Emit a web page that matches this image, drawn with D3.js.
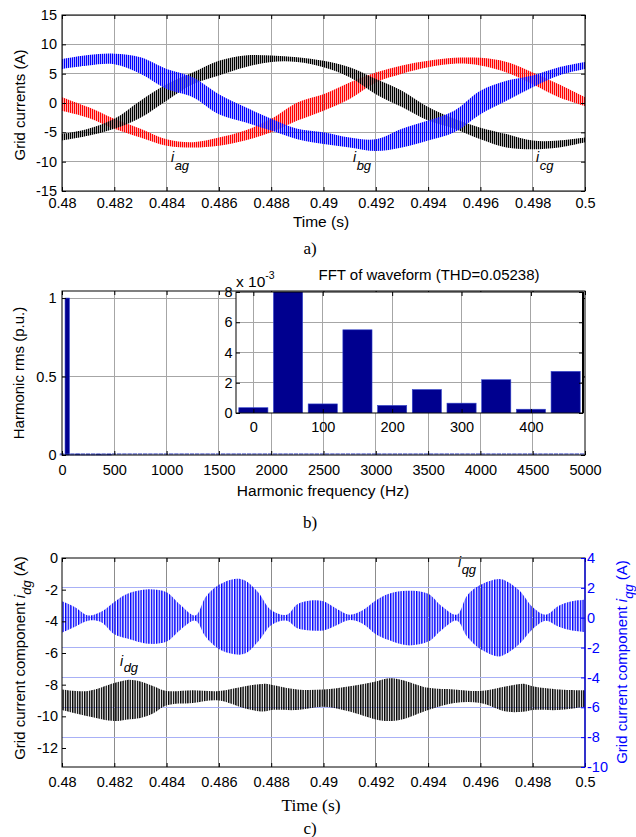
<!DOCTYPE html>
<html>
<head>
<meta charset="utf-8">
<script src="https://cdn.jsdelivr.net/npm/d3@7"></script>
<style>
body { margin: 0; background: #fff; }
svg { font-family: "Liberation Sans", Arial, sans-serif; }
</style>
</head>
<body>
<svg id="fig" width="636" height="837"></svg>
<script>
// ---- a) grid currents, band (upper / lower edge of the ripple)
var timeTicks = [0.48, 0.482, 0.484, 0.486, 0.488, 0.49, 0.492, 0.494, 0.496, 0.498, 0.5];
var currentTicks = [-15, -10, -5, 0, 5, 10, 15];
var tA = [0.480, 0.481, 0.482, 0.483, 0.484, 0.485, 0.486, 0.487, 0.488, 0.489, 0.490,
          0.491, 0.492, 0.493, 0.494, 0.495, 0.496, 0.497, 0.498, 0.499, 0.500];
var iagHi = [1.0, -0.7, -2.7, -4.4, -6.2, -6.7, -5.9, -4.7, -2.7, 0.1, 1.5, 3.5, 5.2, 6.4, 7.2, 7.7, 7.7, 7.0, 5.2, 3.2, 1.0];
var iagLo = [-1.3, -2.5, -4.4, -5.9, -7.3, -7.6, -7.3, -6.4, -5.0, -3.0, -1.3, 0.7, 3.5, 5.0, 6.1, 6.7, 6.4, 5.2, 3.2, 1.0, -0.5];
var ibgHi = [-5.3, -4.4, -2.7, 0.4, 3.2, 5.2, 7.2, 8.1, 8.1, 7.8, 7.2, 6.1, 4.1, 2.1, -0.7, -2.7, -4.2, -5.3, -6.4, -6.4, -5.9];
var ibgLo = [-6.4, -5.6, -4.4, -2.5, 0.4, 3.2, 4.7, 6.1, 7.0, 7.0, 6.1, 4.4, 1.5, -0.7, -3.0, -4.4, -6.2, -7.6, -7.9, -7.6, -6.7];
var icgHi = [7.5, 8.2, 8.4, 7.8, 5.8, 4.4, 1.5, -0.7, -2.7, -4.4, -5.0, -5.9, -6.2, -4.4, -3.0, -1.3, 2.1, 3.8, 4.7, 6.1, 7.0];
var icgLo = [5.8, 6.4, 6.6, 5.0, 2.4, 1.0, -1.9, -3.3, -4.7, -6.2, -7.0, -7.6, -8.2, -7.6, -6.4, -5.0, -1.9, 0.4, 2.7, 4.7, 5.8];

// ---- b) harmonic spectrum
var freqTicks = [0, 500, 1000, 1500, 2000, 2500, 3000, 3500, 4000, 4500, 5000];
var rmsTicks = [0, 0.5, 1];
var harmFreq = [0, 50, 100, 150, 200, 250, 300, 350, 400, 450];
var harmRms = [0.00035, 1.0, 0.0006, 0.0055, 0.0005, 0.00155, 0.00065, 0.0022, 0.00025, 0.00275];
var insetFreqTicks = [0, 100, 200, 300, 400];
var insetRmsTicks = [0, 2, 4, 6, 8];

// ---- c) dq components
var dTicks = [0, -2, -4, -6, -8, -10, -12];
var qTicks = [4, 2, 0, -2, -4, -6, -8, -10];
var tQ = [0.4800, 0.4805, 0.4810, 0.4815, 0.4820, 0.4825, 0.4833, 0.4840, 0.4845, 0.4851,
          0.4855, 0.4860, 0.4866, 0.4870, 0.4875, 0.4880, 0.4886, 0.4890, 0.4895, 0.4900,
          0.4905, 0.4910, 0.4915, 0.4920, 0.4925, 0.4932, 0.4940, 0.4945, 0.4951, 0.4955,
          0.4960, 0.4967, 0.4970, 0.4975, 0.4980, 0.4985, 0.4990, 0.4995, 0.5000];
var iqgHi = [1.1, 0.7, 0.15, 0.4, 1.05, 1.6, 1.9, 1.7, 0.9, 0.15, 1.4, 2.2, 2.6, 2.5, 1.7, 0.5, 0.2, 0.9, 1.15, 1.1,
             0.6, 0.2, 0.5, 1.15, 1.6, 1.8, 1.6, 0.8, 0.2, 1.5, 2.2, 2.6, 2.45, 1.8, 0.7, 0.2, 0.8, 1.1, 1.2];
var iqgLo = [-1.0, -0.6, -0.2, -0.3, -1.1, -1.4, -1.75, -1.6, -0.85, -0.2, -1.3, -2.1, -2.45, -2.4, -1.6, -0.5, -0.2, -0.7, -0.85, -0.85,
             -0.5, -0.15, -0.4, -1.1, -1.5, -1.85, -1.6, -0.85, -0.2, -1.3, -2.1, -2.6, -2.4, -1.75, -0.75, -0.2, -0.6, -0.85, -0.95];
var tD = [0.480, 0.481, 0.482, 0.4825, 0.483, 0.4835, 0.484, 0.485, 0.486, 0.487, 0.4877, 0.488, 0.489,
          0.490, 0.491, 0.492, 0.4925, 0.493, 0.494, 0.495, 0.496, 0.497, 0.4977, 0.498, 0.499, 0.500];
var idgHi = [-8.3, -8.4, -7.9, -7.7, -7.8, -8.1, -8.4, -8.35, -8.4, -8.1, -7.95, -8.0, -8.3,
             -8.3, -8.1, -7.8, -7.6, -7.7, -8.2, -8.3, -8.4, -8.1, -7.95, -8.1, -8.3, -8.35];
var idgLo = [-9.6, -10.0, -10.3, -10.2, -10.1, -9.8, -9.3, -9.15, -9.0, -9.5, -9.7, -9.6, -9.6,
             -9.4, -9.7, -10.2, -10.3, -10.2, -9.6, -9.15, -9.15, -9.7, -9.7, -9.6, -9.6, -9.4];

var svg = d3.select("#fig");
var defs = svg.append("defs");
var TICK_FONT = 14.5;

// vertical hatch, stands for the switching ripple
function stripes(id, color, period, w) {
    defs.append("pattern")
        .attr("id", id)
        .attr("patternUnits", "userSpaceOnUse")
        .attr("width", period).attr("height", 10)
        .append("rect")
        .attr("width", w).attr("height", 10)
        .attr("fill", color);
}
stripes("stR", "#ff0000", 2.0, 1.3);
stripes("stK", "#000000", 2.0, 1.3);
stripes("stB", "#0000ff", 2.0, 1.3);
stripes("stB2", "#0000ff", 2.6, 1.4);
stripes("stK2", "#000000", 2.4, 1.4);

function grid(g, x, y, xt, yt, col, ycol) {
    var yr = y.range(), xr = x.range();
    g.append("g").selectAll("line").data(xt).join("line")
        .attr("x1", function (d) { return x(d); })
        .attr("x2", function (d) { return x(d); })
        .attr("y1", yr[0]).attr("y2", yr[1])
        .attr("stroke", col)
        .attr("shape-rendering", "crispEdges");
    g.append("g").selectAll("line").data(yt).join("line")
        .attr("x1", xr[0]).attr("x2", xr[1])
        .attr("y1", function (d) { return y(d); })
        .attr("y2", function (d) { return y(d); })
        .attr("stroke", ycol || col)
        .attr("shape-rendering", "crispEdges");
}

function band(g, t, lo, hi, x, y, fill) {
    var area = d3.area()
        .x(function (d) { return x(d[0]); })
        .y0(function (d) { return y(d[1]); })
        .y1(function (d) { return y(d[2]); })
        .curve(d3.curveCatmullRom.alpha(0.5));
    g.append("path")
        .datum(t.map(function (v, i) { return [v, lo[i], hi[i]]; }))
        .attr("d", area)
        .attr("fill", fill);
}

function styleAxis(a, color) {
    a.attr("font-size", TICK_FONT).attr("font-family", null).attr("color", color || "#000");
    a.select(".domain").remove();
}

function frame(g, x, y, xt, yt, padX, padY, rightAxis) {
    var xr = x.range(), yr = y.range();
    styleAxis(g.append("g").attr("transform", "translate(0," + yr[0] + ")")
        .call(d3.axisBottom(x).tickValues(xt).tickSizeInner(-4).tickSizeOuter(0)
            .tickPadding(padX).tickFormat(String)));
    styleAxis(g.append("g").attr("transform", "translate(0," + yr[1] + ")")
        .call(d3.axisTop(x).tickValues(xt).tickSizeInner(-4).tickSizeOuter(0).tickFormat("")));
    styleAxis(g.append("g").attr("transform", "translate(" + xr[0] + ",0)")
        .call(d3.axisLeft(y).tickValues(yt).tickSizeInner(-4).tickSizeOuter(0)
            .tickPadding(padY).tickFormat(String)));
    if (!rightAxis) {
        styleAxis(g.append("g").attr("transform", "translate(" + xr[1] + ",0)")
            .call(d3.axisRight(y).tickValues(yt).tickSizeInner(-4).tickSizeOuter(0).tickFormat("")));
    }
    g.append("rect")
        .attr("x", xr[0]).attr("y", yr[1])
        .attr("width", xr[1] - xr[0]).attr("height", yr[0] - yr[1])
        .attr("fill", "none").attr("stroke", "#000").attr("stroke-width", 1);
}

function subLabel(g, x, y, main, sub, dy) {
    var t = g.append("text").attr("x", x).attr("y", y)
        .attr("font-size", 14).attr("font-style", "italic");
    t.append("tspan").text(main);
    t.append("tspan").attr("dx", 0.5).attr("dy", dy).attr("font-size", 13).text(sub);
}

function caption(txt, y) {
    svg.append("text").attr("x", 310).attr("y", y)
        .attr("text-anchor", "middle")
        .attr("font-family", "'Liberation Serif', 'Times New Roman', serif")
        .attr("font-size", 17).text(txt);
}

// ================= a)
var xA = d3.scaleLinear().domain([0.48, 0.5]).range([62, 585]);
var yA = d3.scaleLinear().domain([-15, 15]).range([191, 15]);
var gA = svg.append("g");
grid(gA, xA, yA, timeTicks, currentTicks, "#a6a6a6");
band(gA, tA, iagLo, iagHi, xA, yA, "url(#stR)");
band(gA, tA, ibgLo, ibgHi, xA, yA, "url(#stK)");
band(gA, tA, icgLo, icgHi, xA, yA, "url(#stB)");
frame(gA, xA, yA, timeTicks, currentTicks, 7, 5);
subLabel(gA, 171, 162, "i", "ag", 8);
subLabel(gA, 353, 162, "i", "bg", 8);
subLabel(gA, 536, 162, "i", "cg", 8);
gA.append("text").attr("x", 321).attr("y", 227).attr("text-anchor", "middle")
    .attr("font-size", 15.5).text("Time (s)");
gA.append("text").attr("transform", "translate(25,105) rotate(-90)")
    .attr("text-anchor", "middle").attr("font-size", 15).text("Grid currents (A)");
caption("a)", 254);

// ================= b)
var xB = d3.scaleLinear().domain([0, 5000]).range([62, 585]);
var yB = d3.scaleLinear().domain([0, 1.045]).range([455, 291]);
var gB = svg.append("g");
grid(gB, xB, yB, freqTicks.slice(1, -1), [0.5, 1], "#a6a6a6");
var barW = 42;
gB.append("g").selectAll("rect").data(harmFreq).join("rect")
    .attr("x", function (d) { return xB(d - barW / 2); })
    .attr("width", function () { return xB(barW) - xB(0); })
    .attr("y", function (d, i) { return yB(harmRms[i]); })
    .attr("height", function (d, i) { return yB(0) - yB(harmRms[i]); })
    .attr("fill", "#00008f")
    .attr("stroke", "#3344cc").attr("stroke-width", 0.6);
// the many near-zero harmonic bars read as a dashed navy baseline
gB.append("line")
    .attr("x1", xB(-barW / 2)).attr("x2", xB(5000))
    .attr("y1", yB(0) - 1).attr("y2", yB(0) - 1)
    .attr("stroke", "#2233bb").attr("stroke-width", 1.2)
    .attr("stroke-dasharray", "4.4,0.8");
frame(gB, xB, yB, freqTicks, rmsTicks, 10, 5.5);
gB.append("text").attr("x", 323).attr("y", 496).attr("text-anchor", "middle")
    .attr("font-size", 15.5).text("Harmonic frequency (Hz)");
gB.append("text").attr("transform", "translate(24,373) rotate(-90)")
    .attr("text-anchor", "middle").attr("font-size", 15).text("Harmonic rms (p.u.)");

// inset
var xI = d3.scaleLinear().domain([-25, 475]).range([236, 583]);
var yI = d3.scaleLinear().domain([0, 8]).range([413, 292]);
var gI = svg.append("g");
gI.append("rect").attr("x", 236).attr("y", 292).attr("width", 347).attr("height", 121).attr("fill", "#fff");
defs.append("clipPath").attr("id", "clipI").append("rect")
    .attr("x", 236).attr("y", 292).attr("width", 347).attr("height", 121);
grid(gI, xI, yI, insetFreqTicks, [2, 4, 6], "#a6a6a6");
gI.append("g").attr("clip-path", "url(#clipI)")
    .selectAll("rect").data(harmFreq).join("rect")
    .attr("x", function (d) { return xI(d - barW / 2); })
    .attr("width", function () { return xI(barW) - xI(0); })
    .attr("y", function (d, i) { return yI(harmRms[i] * 1000); })
    .attr("height", function (d, i) { return yI(0) - yI(harmRms[i] * 1000); })
    .attr("fill", "#00008f")
    .attr("stroke", "#3344cc").attr("stroke-width", 0.6);
frame(gI, xI, yI, insetFreqTicks, insetRmsTicks, 9, 3.5);
gI.append("line").attr("x1", 583).attr("x2", 583).attr("y1", 292).attr("y2", 413)
    .attr("stroke", "#000").attr("stroke-width", 2);
gI.append("text").attr("x", 429).attr("y", 280).attr("text-anchor", "middle")
    .attr("font-size", 15).text("FFT of waveform (THD=0.05238)");
var ex = gI.append("text").attr("x", 236).attr("y", 287).attr("font-size", 15.5);
ex.append("tspan").text("x 10");
ex.append("tspan").attr("dy", -8).attr("font-size", 10.5).text("-3");
caption("b)", 528);

// ================= c)
var xC = d3.scaleLinear().domain([0.48, 0.5]).range([62, 585]);
var yCl = d3.scaleLinear().domain([-13.2, 0]).range([767, 558]);
var yCr = d3.scaleLinear().domain([-10, 4]).range([767, 558]);
var gC = svg.append("g");
grid(gC, xC, yCr, timeTicks.slice(1, -1), [], "#8c8c8c");
grid(gC, xC, yCr, [], qTicks.slice(1, -1), "#8c8c8c", "#a8b0f6");
band(gC, tD, idgLo, idgHi, xC, yCl, "url(#stK2)");
band(gC, tQ, iqgLo, iqgHi, xC, yCr, "url(#stB2)");
frame(gC, xC, yCl, timeTicks, dTicks, 10, 4, true);
var ra = gC.append("g").attr("transform", "translate(585,0)")
    .call(d3.axisRight(yCr).tickValues(qTicks).tickSizeInner(-4).tickSizeOuter(0)
        .tickPadding(2).tickFormat(String));
styleAxis(ra, "#0000ff");
gC.append("line").attr("x1", 585).attr("x2", 585).attr("y1", 558).attr("y2", 767)
    .attr("stroke", "#0000ff").attr("stroke-width", 1.2);
subLabel(gC, 458, 567, "i", "qg", 7);
subLabel(gC, 120, 666, "i", "dg", 6);
gC.append("text").attr("x", 311).attr("y", 811).attr("text-anchor", "middle")
    .attr("font-family", "'Liberation Serif', 'Times New Roman', serif")
    .attr("font-size", 17.5).text("Time (s)");
var yl = gC.append("text").attr("transform", "translate(25,658) rotate(-90)")
    .attr("text-anchor", "middle").attr("font-size", 15);
yl.append("tspan").text("Grid current component  ");
yl.append("tspan").attr("font-style", "italic").text("i");
yl.append("tspan").attr("dy", 6).attr("font-size", 13).attr("font-style", "italic").text("dg");
yl.append("tspan").attr("dy", -6).text("  (A)");
var yr2 = gC.append("text").attr("transform", "translate(627,662) rotate(-90)")
    .attr("text-anchor", "middle").attr("font-size", 15).attr("fill", "#0000ff");
yr2.append("tspan").text("Grid current component  ");
yr2.append("tspan").attr("font-style", "italic").text("i");
yr2.append("tspan").attr("dy", 6).attr("font-size", 13).attr("font-style", "italic").text("qg");
yr2.append("tspan").attr("dy", -6).text("  (A)");
caption("c)", 834);
</script>
</body>
</html>
